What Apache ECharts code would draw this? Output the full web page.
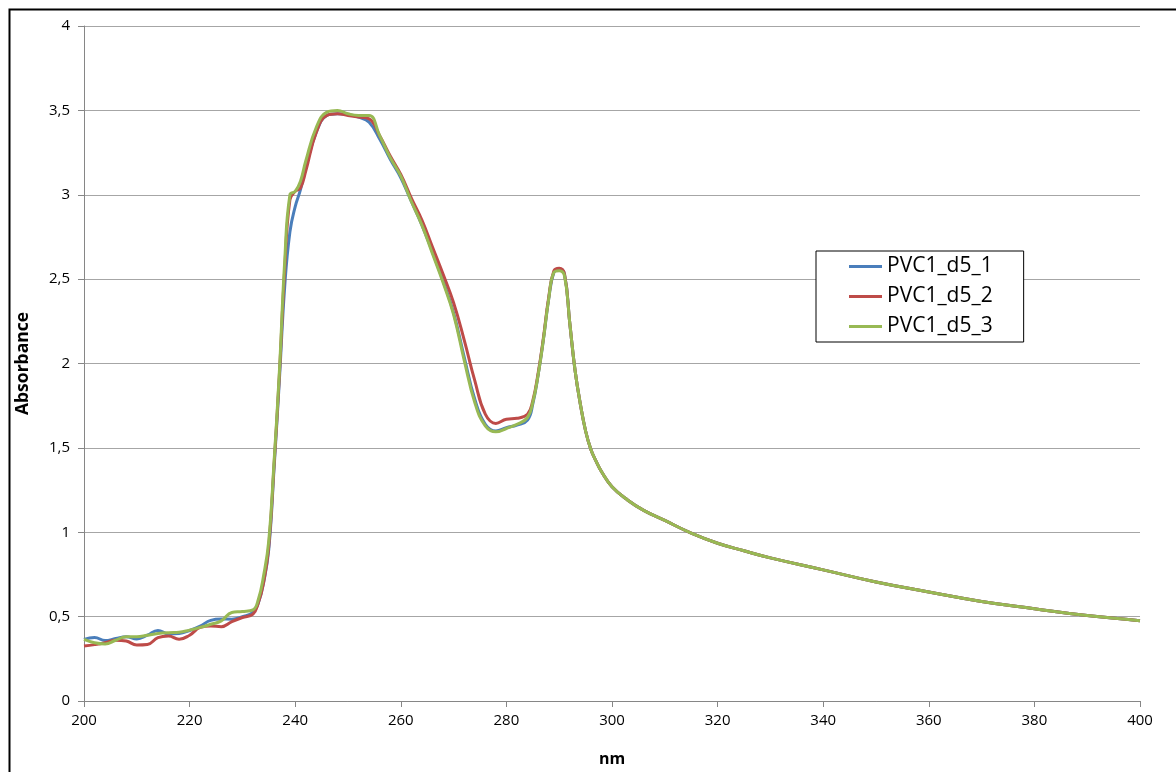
<!DOCTYPE html>
<html>
<head>
<meta charset="utf-8">
<script src="https://cdn.jsdelivr.net/npm/echarts@6/dist/echarts.min.js"></script>
<style>
html,body{margin:0;padding:0;background:#fff;}
#chart{width:1176px;height:772px;}
</style>
</head>
<body>
<div id="chart"></div>
<script>
var wavelengths = [200,202,204,206,208,210,212,214,216,218,220,222,224,226,228,230,232,
  233,234,235,236,237,238,239,240,241,242,
  244,246,248,250,252,254,256,258,260,262,264,266,268,270,272,274,276,278,280,282,
  284,285,286,287,288,289,290,291,292,293,294,295,296,297,298,
  300,303,306,310,315,320,325,330,
  340,350,360,370,380,390,400];

var pvc1 = [0.365,0.377,0.358,0.37,0.381,0.368,0.39,0.418,0.398,0.40,0.418,0.444,0.478,0.486,0.485,0.50,0.525,
  0.58,0.70,0.90,1.38,1.9,2.45,2.78,2.93,3.03,3.16,
  3.37,3.47,3.48,3.475,3.46,3.43,3.33,3.21,3.10,2.96,2.82,2.66,2.49,2.30,2.04,1.79,1.64,1.60,1.62,1.635,
  1.665,1.76,1.93,2.14,2.38,2.54,2.56,2.53,2.24,1.96,1.76,1.60,1.49,1.42,1.36,
  1.27,1.19,1.13,1.07,0.995,0.935,0.89,0.848,
  0.777,0.705,0.646,0.59,0.547,0.506,0.476];

var pvc2 = [0.326,0.334,0.345,0.36,0.355,0.332,0.335,0.375,0.385,0.366,0.39,0.436,0.445,0.44,0.47,0.495,0.515,
  0.58,0.70,0.92,1.40,1.93,2.55,2.97,3.02,3.04,3.14,
  3.37,3.47,3.48,3.47,3.46,3.45,3.35,3.23,3.12,2.98,2.85,2.69,2.53,2.36,2.14,1.90,1.70,1.645,1.67,1.675,
  1.70,1.78,1.94,2.15,2.39,2.55,2.565,2.53,2.24,1.96,1.76,1.60,1.49,1.42,1.36,
  1.27,1.19,1.13,1.07,0.995,0.935,0.89,0.848,
  0.777,0.705,0.646,0.59,0.547,0.506,0.476];

var pvc3 = [0.365,0.345,0.338,0.36,0.381,0.381,0.39,0.40,0.405,0.407,0.42,0.436,0.455,0.475,0.525,0.53,0.54,
  0.60,0.74,0.95,1.42,1.95,2.60,3.00,3.02,3.08,3.20,
  3.40,3.49,3.50,3.48,3.47,3.47,3.35,3.22,3.11,2.96,2.82,2.65,2.48,2.29,2.02,1.77,1.63,1.595,1.615,1.64,
  1.68,1.77,1.93,2.14,2.38,2.54,2.55,2.52,2.24,1.96,1.76,1.60,1.49,1.42,1.36,
  1.27,1.19,1.13,1.07,0.995,0.935,0.89,0.848,
  0.777,0.705,0.646,0.59,0.547,0.506,0.476];

var seriesNames = ['PVC1_d5_1','PVC1_d5_2','PVC1_d5_3'];
var seriesColors = ['#4a7ebb','#be4b48','#98b954'];
var seriesValues = [pvc1, pvc2, pvc3];

function pairs(vals){ return wavelengths.map(function(w,i){ return [w, vals[i]]; }); }

var chart = echarts.init(document.getElementById('chart'), null, {renderer:'canvas'});
var FONT = '"Open Sans", "DejaVu Sans", sans-serif';
var option = {
  animation: false,
  backgroundColor: '#fff',
  textStyle: {fontFamily: FONT},
  graphic: [{
    type: 'rect', left: 7, top: 7, silent: true, z: 100,
    shape: {width: 1190, height: 790},
    style: {fill: 'none', stroke: '#000', lineWidth: 2}
  }],
  grid: {left: 84, right: 36, top: 26, bottom: 71, containLabel: false},
  legend: {
    orient: 'vertical',
    left: 816, top: 251,
    data: seriesNames,
    icon: 'rect',
    itemWidth: 33, itemHeight: 3,
    itemGap: 9,
    padding: [5, 31, 5, 33],
    backgroundColor: '#fff',
    borderColor: '#000', borderWidth: 1,
    textStyle: {fontFamily: FONT, fontSize: 21, color: '#000', lineHeight: 21}
  },
  xAxis: {
    type: 'value', min: 200, max: 400, interval: 20,
    name: 'nm', nameLocation: 'middle', nameGap: 50,
    nameTextStyle: {fontFamily: FONT, fontSize: 16, fontWeight: 'bold', color: '#000'},
    axisLine: {show: true, lineStyle: {color: '#868686', width: 1}},
    axisTick: {show: true, length: 6, lineStyle: {color: '#868686'}},
    axisLabel: {fontFamily: FONT, fontSize: 15, color: '#000', margin: 12},
    splitLine: {show: false}
  },
  yAxis: {
    type: 'value', min: 0, max: 4, interval: 0.5,
    name: 'Absorbance', nameLocation: 'middle', nameGap: 52, nameRotate: 90,
    nameTextStyle: {fontFamily: FONT, fontSize: 17.5, fontWeight: 'bold', color: '#000'},
    axisLine: {show: true, lineStyle: {color: '#868686', width: 1}},
    axisTick: {show: true, length: 6, lineStyle: {color: '#868686'}},
    axisLabel: {fontFamily: FONT, fontSize: 15, color: '#000', margin: 14,
      formatter: function(v){ return String(v).replace('.', ','); }},
    splitLine: {show: true, lineStyle: {color: '#a6a6a6', width: 1}}
  },
  series: seriesNames.map(function(n, i){
    return {
      name: n, type: 'line', data: pairs(seriesValues[i]),
      showSymbol: false, symbol: 'none', smooth: 0.45,
      color: seriesColors[i],
      lineStyle: {color: seriesColors[i], width: 3},
      z: 2 + i
    };
  })
};
chart.setOption(option);
</script>
</body>
</html>
